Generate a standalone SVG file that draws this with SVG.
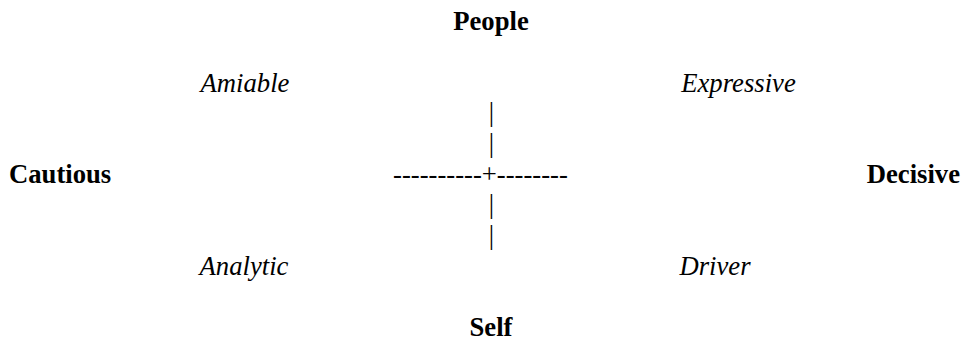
<svg xmlns="http://www.w3.org/2000/svg" width="967" height="339" viewBox="0 0 967 339">
<style>
text{font-family:"Liberation Serif","Times New Roman",serif;font-size:26.67px;fill:#000}
.b{font-weight:bold}
.i{font-style:italic}
.m{text-anchor:middle}
</style>
<rect width="967" height="339" fill="#fff"/>
<g id="people"><text class="b m" x="491" y="30">People</text></g>
<g id="amiable"><text class="i m" x="245" y="92">Amiable</text></g>
<g id="expressive"><text class="i m" x="738.5" y="92">Expressive</text></g>
<g id="cautious"><text class="b" x="9" y="183">Cautious</text></g>
<g id="decisive"><text class="b" x="960" y="183" text-anchor="end">Decisive</text></g>
<g id="analytic"><text class="i m" x="244" y="275">Analytic</text></g>
<g id="driver"><text class="i m" x="715" y="275">Driver</text></g>
<g id="self"><text class="b m" x="491" y="336">Self</text></g>
<g id="connectors" opacity="0.99">
<text class="m" x="491.5" y="121">|</text>
<text class="m" x="491.5" y="151.5">|</text>
<text x="393" y="183">----------+--------</text>
<text class="m" x="491.5" y="213">|</text>
<text class="m" x="491.5" y="243.5">|</text>
</g>
</svg>
